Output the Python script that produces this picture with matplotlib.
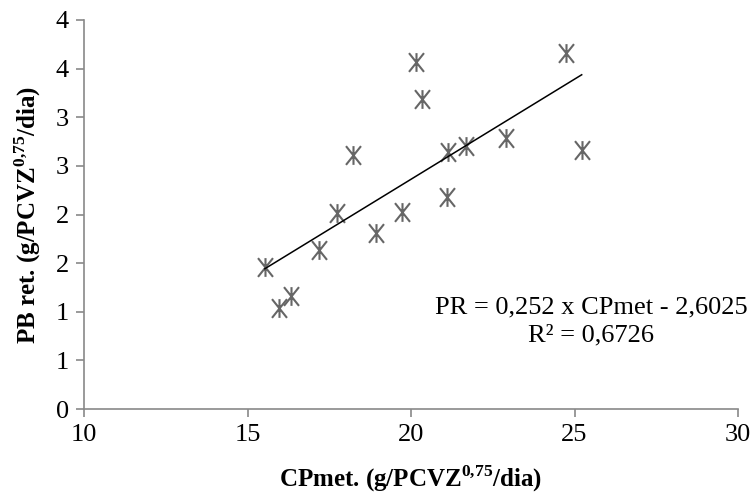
import numpy as np
import matplotlib
matplotlib.use("Agg")
import matplotlib.pyplot as plt
from matplotlib.path import Path

plt.rcParams['font.family'] = ['Liberation Serif', 'DejaVu Serif']
plt.rcParams['mathtext.fontset'] = 'custom'
plt.rcParams['mathtext.rm'] = 'Liberation Serif'
plt.rcParams['mathtext.bf'] = 'Liberation Serif:bold'

# data
cp_met = [15.53, 15.97, 16.32, 17.20, 17.73, 18.22, 18.93, 19.73,
          20.15, 20.34, 21.11, 21.14, 21.67, 22.91, 24.73, 25.22]
pb_ret = [1.46, 1.04, 1.16, 1.64, 2.02, 2.61, 1.81, 2.03,
          3.57, 3.19, 2.18, 2.64, 2.70, 2.79, 3.66, 2.66]

x_ticks = [10, 15, 20, 25, 30]
y_ticks = [0, 0.5, 1, 1.5, 2, 2.5, 3, 3.5, 4]
y_labels = ['0', '1', '1', '2', '2', '3', '3', '4', '4']
equation = "PR = 0,252 x CPmet - 2,6025\nR² = 0,6726"

# asterisk marker: vertical bar plus an X
asterisk = Path([(0, -1), (0, 1), (-0.8, -1), (0.8, 1), (-0.8, 1), (0.8, -1)],
                [Path.MOVETO, Path.LINETO, Path.MOVETO, Path.LINETO, Path.MOVETO, Path.LINETO])

fig = plt.figure(figsize=(7.52, 4.95), dpi=100)
ax = fig.add_axes([0.1117, 0.1737, 0.8697, 0.7859])

ax.plot(cp_met, pb_ret, linestyle='none', marker=asterisk, markersize=13.5,
        markeredgewidth=1.5, markeredgecolor='#666666', markerfacecolor='none')

slope, intercept = np.polyfit(cp_met, pb_ret, 1)
xs = np.array([min(cp_met), max(cp_met)])
ax.plot(xs, slope * xs + intercept, color='black', linewidth=1.1)

ax.text(25.5, 0.9, equation, ha='center', va='center', multialignment='center',
        fontsize=19, linespacing=1.3)

ax.set_xlim(10, 30)
ax.set_ylim(0, 4)
ax.set_xticks(x_ticks)
ax.set_xticklabels([str(t) for t in x_ticks])
ax.set_yticks(y_ticks)
ax.set_yticklabels(y_labels)
ax.tick_params(labelsize=19, color='#898989', length=6, width=1.2, pad=5)

for side in ['top', 'right']:
    ax.spines[side].set_visible(False)
for side in ['left', 'bottom']:
    ax.spines[side].set_color('#898989')
    ax.spines[side].set_linewidth(1.2)

ax.set_xlabel(r'CPmet. (g/PCVZ$^{\mathbf{0{,}75}}$/dia)', fontsize=18, fontweight='bold', labelpad=12)
ax.set_ylabel(r'PB ret. (g/PCVZ$^{\mathbf{0{,}75}}$/dia)', fontsize=18, fontweight='bold', labelpad=9)

fig.savefig('out.png', dpi=100)
